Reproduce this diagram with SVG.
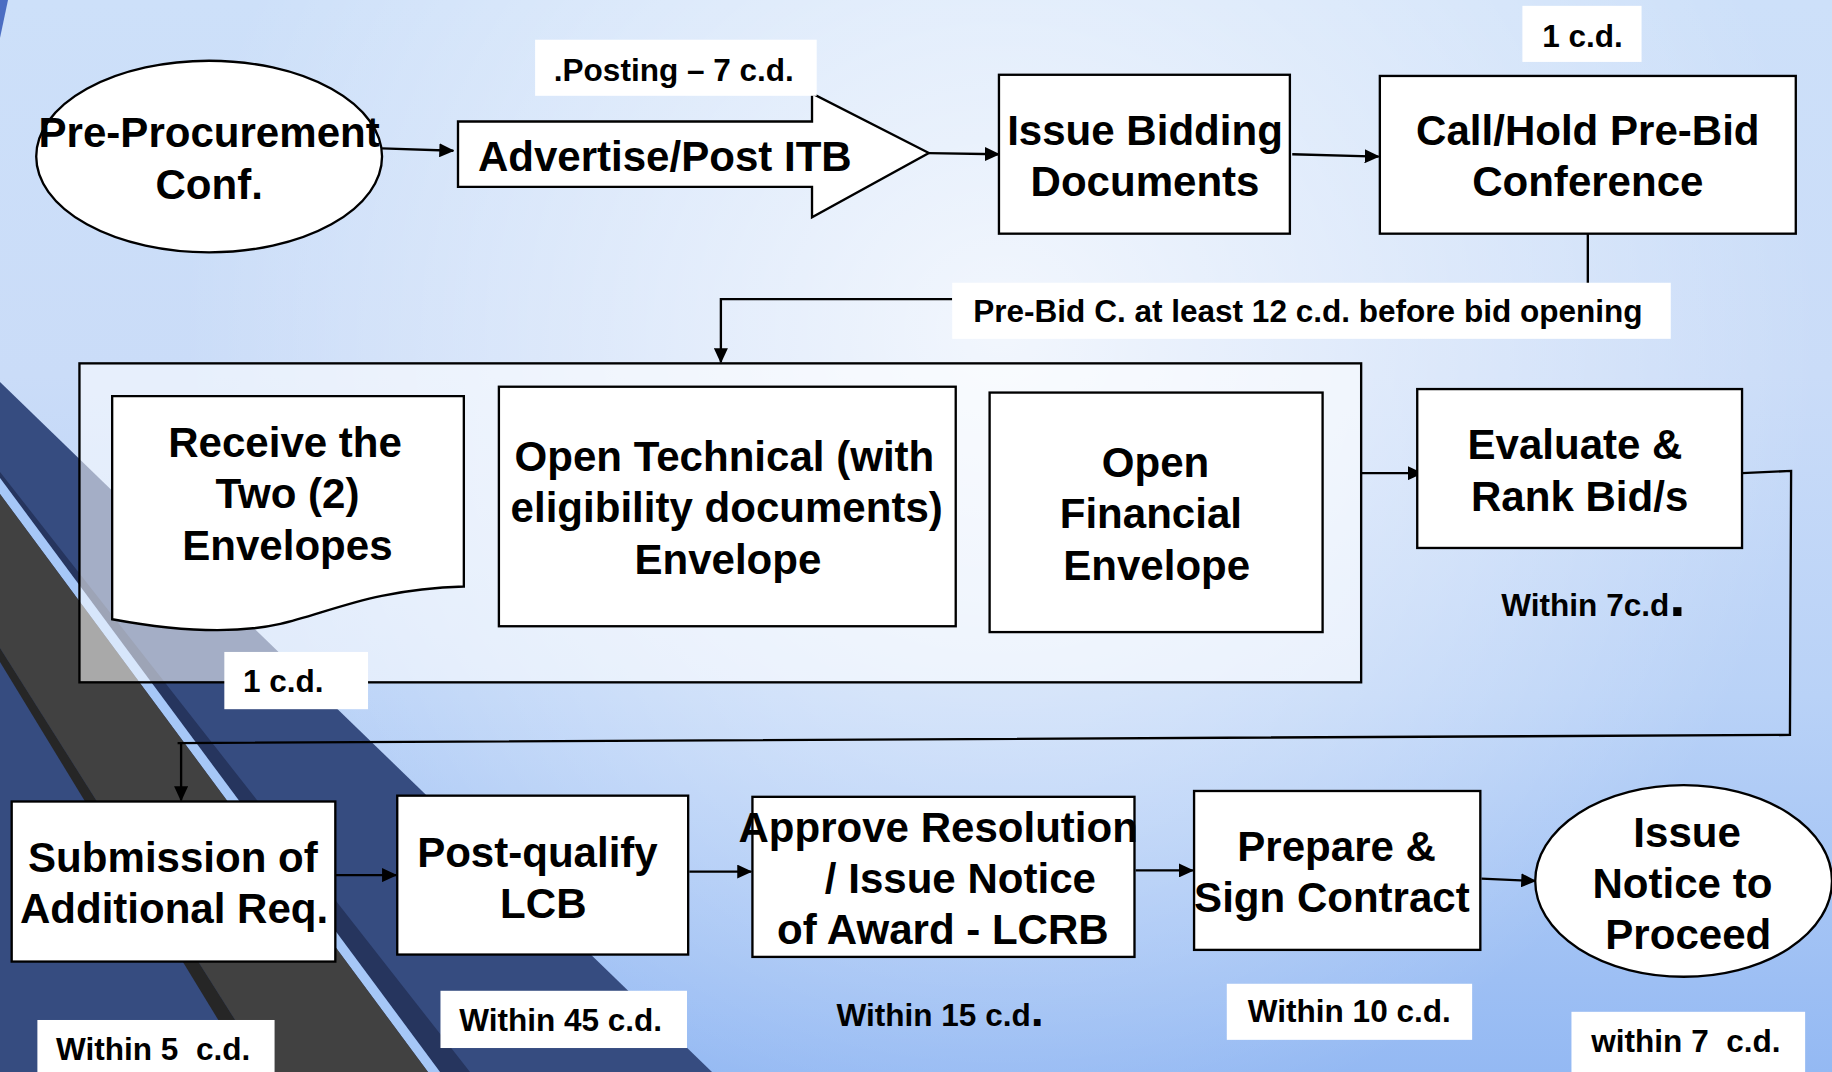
<svg xmlns="http://www.w3.org/2000/svg" width="1832" height="1072" viewBox="0 0 1832 1072">
<defs>
<linearGradient id="bg" x1="0" y1="0" x2="0" y2="1">
<stop offset="0" stop-color="#cde0f9"/>
<stop offset="0.35" stop-color="#cadcf8"/>
<stop offset="0.65" stop-color="#b9d2f7"/>
<stop offset="1" stop-color="#94b9f3"/>
</linearGradient>
<radialGradient id="glow" gradientUnits="userSpaceOnUse" cx="1000" cy="330" r="820">
<stop offset="0" stop-color="#ffffff" stop-opacity="0.75"/>
<stop offset="0.6" stop-color="#ffffff" stop-opacity="0.3"/>
<stop offset="1" stop-color="#ffffff" stop-opacity="0"/>
</radialGradient>
<marker id="ah" markerUnits="userSpaceOnUse" markerWidth="13" markerHeight="12" refX="12" refY="6" orient="auto" viewBox="0 0 13 12">
<path d="M0,0 L13,6 L0,12 z" fill="#000"/>
</marker>
<style>
.t{font-family:"Liberation Sans",Arial,sans-serif;font-weight:700;font-size:36px;text-anchor:middle;fill:#000}
.s{font-family:"Liberation Sans",Arial,sans-serif;font-weight:700;font-size:27px;fill:#000}
.b{fill:#fff;stroke:#000;stroke-width:2}
.w{fill:#fff}
.c{fill:none;stroke:#000;stroke-width:2}
.a{marker-end:url(#ah)}
</style>
</defs>

<g id="background">
<rect x="0" y="0" width="1832" height="1072" fill="url(#bg)"/>
<rect x="0" y="0" width="1832" height="1072" fill="url(#glow)"/>
<polygon points="0,0 8,0 0,38" fill="#4b6dc2"/>
<polygon points="0,382 712,1072 0,1072" fill="#364c80"/>
<polygon points="0,472 470,1072 440,1072 0,478" fill="#26355e"/>
<polygon points="0,478 440,1072 428,1072 0,494" fill="#a6c7f7"/>
<polygon points="0,494 428,1072 268,1072 0,648" fill="#414141"/>
<polygon points="0,648 268,1072 250,1072 0,662" fill="#262626"/>
</g>

<g transform="scale(1.16837)">
<g id="n-stage">
<rect x="68" y="311" width="1097" height="273" fill="#ffffff" fill-opacity="0.55" stroke="#000" stroke-width="2"/>
</g>

<g id="connectors">
<line class="c a" x1="327" y1="127" x2="388" y2="129"/>
<line class="c a" x1="795" y1="131" x2="855" y2="132"/>
<line class="c a" x1="1106" y1="132" x2="1180" y2="134"/>
<line class="c" x1="1359" y1="200" x2="1359" y2="244"/>
<polyline class="c a" points="815,256 617,256 617,310"/>
<line class="c a" x1="1165" y1="405" x2="1217" y2="405"/>
<polyline class="c" points="1491,405 1533,403 1532,629 152,636"/>
<line class="c a" x1="155" y1="636" x2="155" y2="685"/>
<line class="c a" x1="287" y1="749" x2="339" y2="749"/>
<line class="c a" x1="590" y1="746" x2="643" y2="746"/>
<line class="c a" x1="972" y1="745" x2="1021" y2="745"/>
<line class="c a" x1="1268" y1="752" x2="1314" y2="754"/>
</g>

<g id="n-preproc">
<ellipse class="b" cx="179" cy="134" rx="148" ry="82"/>
<text class="t" x="179" y="126">Pre-Procurement</text>
<text class="t" x="179" y="170">Conf.</text>
</g>

<g id="n-advertise">
<polygon class="b" points="392,104 695,104 695,80 795,131 695,186 695,160 392,160"/>
<text class="t" x="569" y="146">Advertise/Post ITB</text>
</g>

<g id="l-posting">
<rect class="w" x="458" y="34" width="241" height="48"/>
<text class="s" x="474" y="69">.Posting – 7 c.d.</text>
</g>

<g id="n-issue">
<rect class="b" x="855" y="64" width="249" height="136"/>
<text class="t" x="980" y="124">Issue Bidding</text>
<text class="t" x="980" y="168">Documents</text>
</g>

<g id="n-prebid">
<rect class="b" x="1181" y="65" width="356" height="135"/>
<text class="t" x="1359" y="124">Call/Hold Pre-Bid</text>
<text class="t" x="1359" y="168">Conference</text>
</g>

<g id="l-1cd-top">
<rect class="w" x="1303" y="5" width="102" height="48"/>
<text class="s" x="1320" y="40">1 c.d.</text>
</g>

<g id="l-prebid">
<rect class="w" x="815" y="242" width="615" height="48"/>
<text class="s" x="833" y="276">Pre-Bid C. at least 12 c.d. before bid opening</text>
</g>

<g id="n-receive">
<path class="b" d="M96,339 H397 V502 C320,504 280,525 240,534 C200,543 150,540 96,530 Z"/>
<text class="t" x="244" y="391">Receive the</text>
<text class="t" x="246" y="435">Two (2)</text>
<text class="t" x="246" y="479">Envelopes</text>
</g>

<g id="n-opentech">
<rect class="b" x="427" y="331" width="391" height="205"/>
<text class="t" x="620" y="403">Open Technical (with</text>
<text class="t" x="622" y="447">eligibility documents)</text>
<text class="t" x="623" y="491">Envelope</text>
</g>

<g id="n-openfin">
<rect class="b" x="847" y="336" width="285" height="205"/>
<text class="t" x="989" y="408">Open</text>
<text class="t" x="985" y="452">Financial</text>
<text class="t" x="990" y="496">Envelope</text>
</g>

<g id="l-1cd-mid">
<rect class="w" x="192" y="558" width="123" height="49"/>
<text class="s" x="208" y="592">1 c.d.</text>
</g>

<g id="n-evaluate">
<rect class="b" x="1213" y="333" width="278" height="136"/>
<text class="t" x="1348" y="393">Evaluate &amp;</text>
<text class="t" x="1352" y="437">Rank Bid/s</text>
</g>

<g id="l-7cd">
<text class="s" x="1285" y="527">Within 7c.d<tspan style="font-size:50px">.</tspan></text>
</g>

<g id="n-submission">
<rect class="b" x="10" y="686" width="277" height="137"/>
<text class="t" x="148" y="746">Submission of</text>
<text class="t" x="149" y="790">Additional Req.</text>
</g>

<g id="n-postqual">
<rect class="b" x="340" y="681" width="249" height="136"/>
<text class="t" x="460" y="742">Post-qualify</text>
<text class="t" x="465" y="786">LCB</text>
</g>

<g id="n-approve">
<rect class="b" x="644" y="682" width="327" height="137"/>
<text class="t" x="803" y="721">Approve Resolution</text>
<text class="t" x="822" y="764">/ Issue Notice</text>
<text class="t" x="807" y="808">of Award - LCRB</text>
</g>

<g id="n-prepare">
<rect class="b" x="1022" y="677" width="245" height="136"/>
<text class="t" x="1144" y="737">Prepare &amp;</text>
<text class="t" x="1140" y="781">Sign Contract</text>
</g>

<g id="n-ntp">
<ellipse class="b" cx="1441" cy="754" rx="127" ry="82"/>
<text class="t" x="1444" y="725">Issue</text>
<text class="t" x="1440" y="769">Notice to</text>
<text class="t" x="1445" y="812">Proceed</text>
</g>

<g id="l-5cd">
<rect class="w" x="32" y="873" width="203" height="50"/>
<text class="s" x="48" y="907" xml:space="preserve">Within 5  c.d.</text>
</g>

<g id="l-45cd">
<rect class="w" x="377" y="848" width="211" height="49"/>
<text class="s" x="393" y="882">Within 45 c.d.</text>
</g>

<g id="l-15cd">
<text class="s" x="716" y="878">Within 15 c.d<tspan style="font-size:40px">.</tspan></text>
</g>

<g id="l-10cd">
<rect class="w" x="1050" y="842" width="210" height="48"/>
<text class="s" x="1068" y="875">Within 10 c.d.</text>
</g>

<g id="l-7cd-ntp">
<rect class="w" x="1345" y="866" width="200" height="56"/>
<text class="s" x="1362" y="900" xml:space="preserve">within 7  c.d.</text>
</g>
</g>
</svg>
